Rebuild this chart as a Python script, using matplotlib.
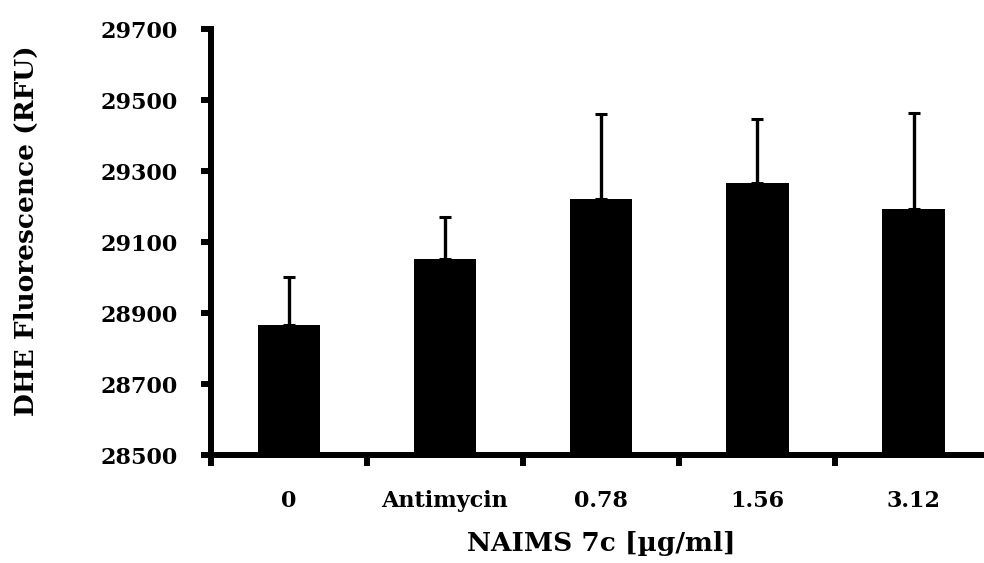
import matplotlib
matplotlib.use("Agg")
import matplotlib.pyplot as plt
import numpy as np

categories = ["0", "Antimycin", "0.78", "1.56", "3.12"]
means = [28866, 29052, 29221, 29266, 29194]
errors = [137, 118, 240, 180, 269]

plt.rcParams['font.family'] = ['DejaVu Serif']
plt.rcParams['font.weight'] = 'bold'

fig = plt.figure(figsize=(9.84, 5.63), dpi=100)
ax = fig.add_axes([0.2141, 0.1918, 0.7937, 0.7562])

x = np.arange(len(categories))
ax.bar(x, means, width=0.4, color='black')
# only the upper half of the error bar is shown
ax.errorbar(x, means, yerr=[np.zeros(len(errors)), errors], fmt='none',
            ecolor='black', elinewidth=2.4, capsize=4.3, capthick=2.2)

ax.set_ylim(28500, 29700)
ax.set_yticks(np.arange(28500, 29701, 200))
ax.set_xlim(-0.5, 4.5)

# major ticks between groups, labels sit on minor ticks at bar centres
ax.set_xticks(np.arange(-0.5, 4.5, 1.0))
ax.set_xticklabels([])
ax.set_xticks(x, minor=True)
ax.set_xticklabels(categories, minor=True)
ax.tick_params(axis='x', which='minor', length=0, pad=25, labelsize=16)
ax.tick_params(axis='x', which='major', length=8, width=4.3, direction='out')
ax.tick_params(axis='y', length=7, width=4.3, direction='out', pad=17, labelsize=16)

for side in ['top', 'right']:
    ax.spines[side].set_visible(False)
for side in ['left', 'bottom']:
    ax.spines[side].set_linewidth(4.3)

ax.set_xlabel("NAIMS 7c [µg/ml]", fontsize=19, fontweight='bold', va='center')
ax.xaxis.set_label_coords(0.5, -0.207)
ax.set_ylabel("DHE Fluorescence (RFU)", fontsize=19, fontweight='bold', va='center')
ax.yaxis.set_label_coords(-0.2365, 0.526)

fig.savefig("out.png", dpi=100)
